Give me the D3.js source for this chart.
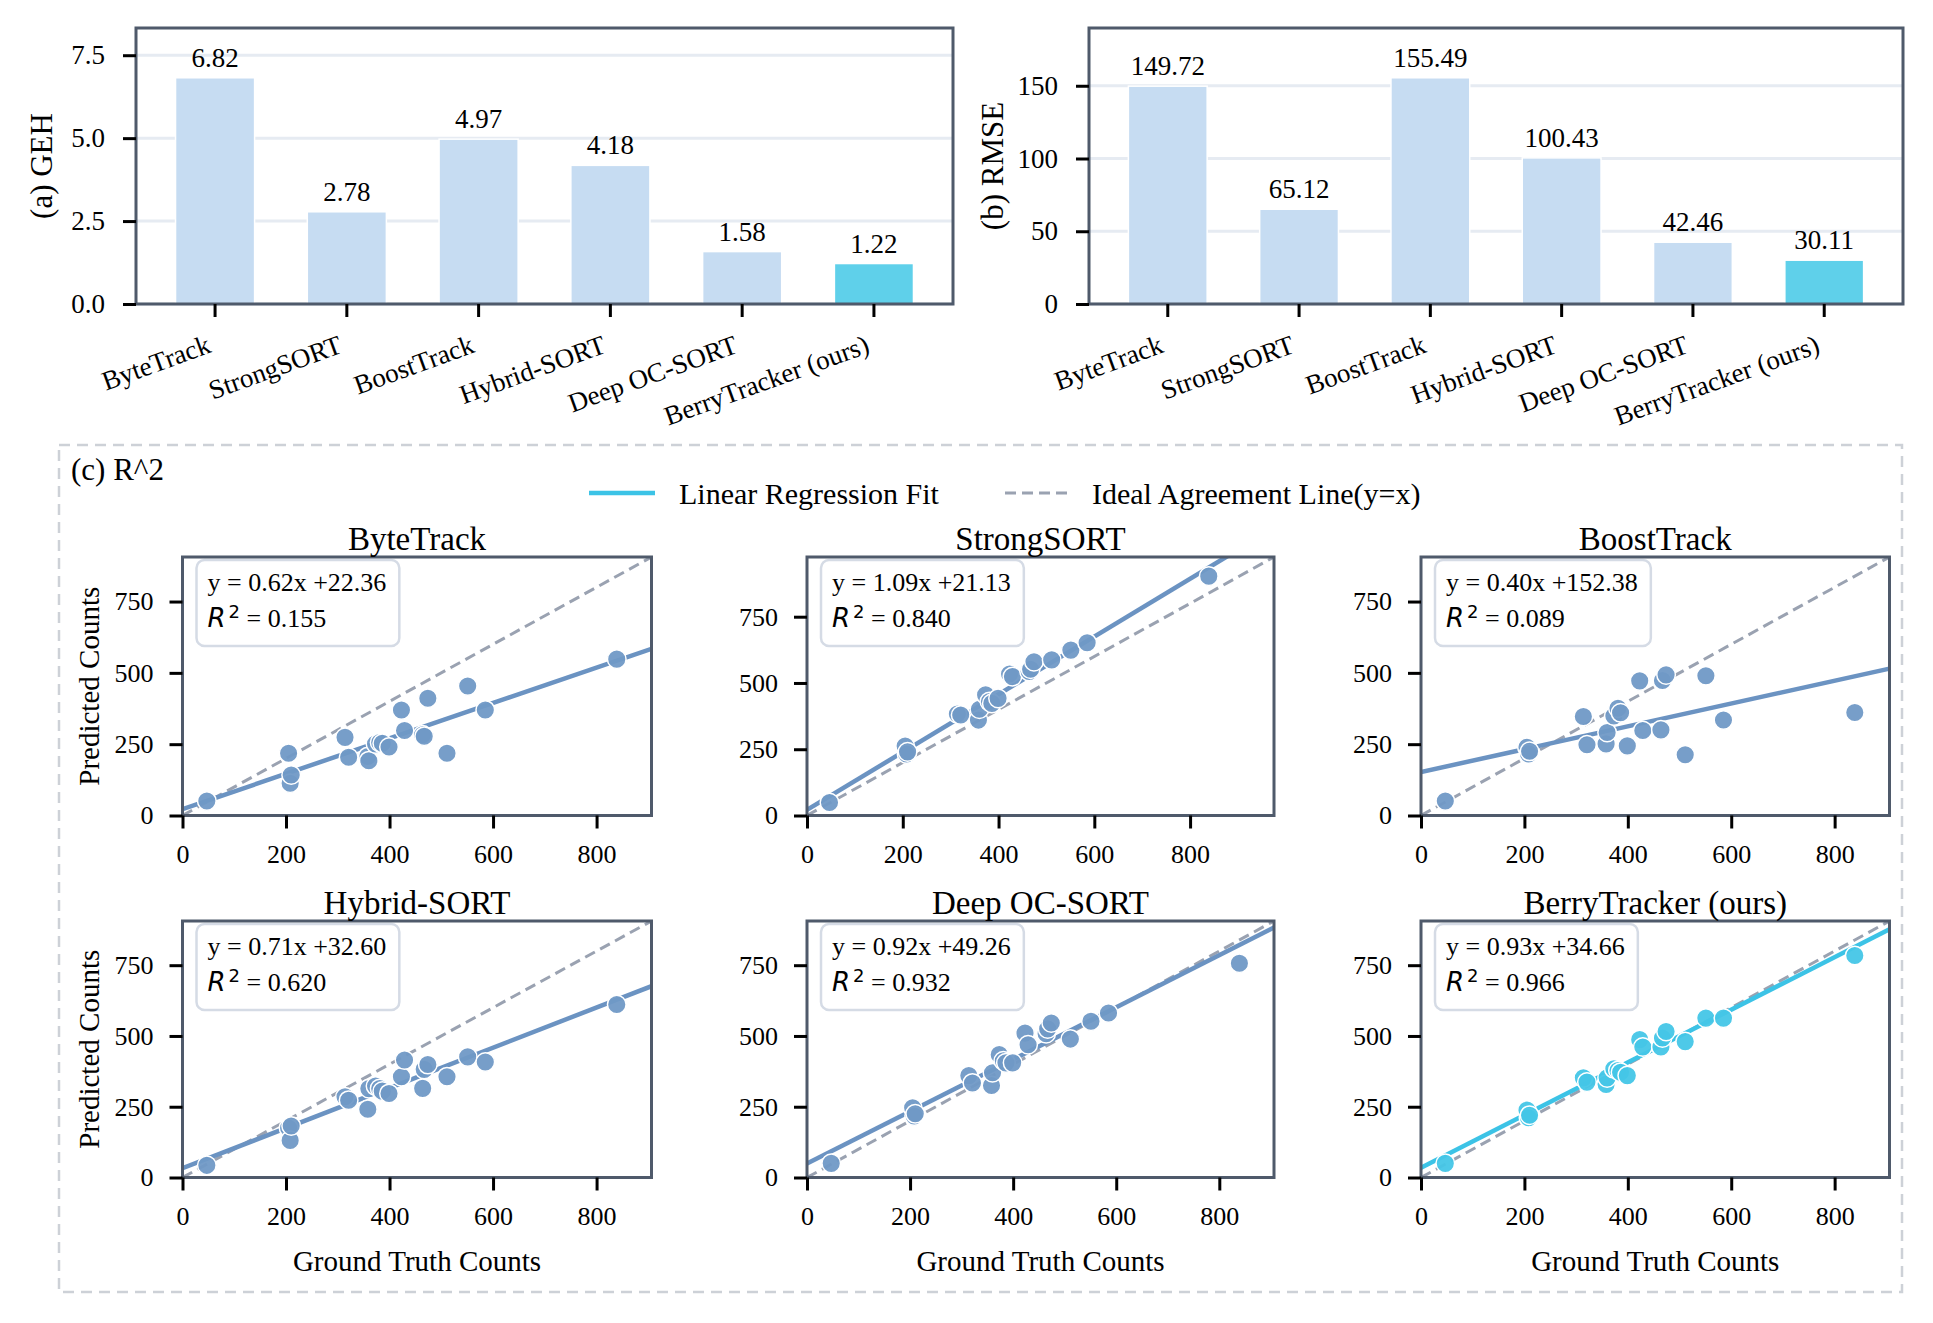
<!DOCTYPE html>
<html>
<head>
<meta charset="utf-8">
<script src="https://cdn.jsdelivr.net/npm/d3@7"></script>
<style>
  body { margin: 0; background: #fff; }
  svg text { font-family: "Liberation Serif", "Times New Roman", serif; fill: #000; }
</style>
</head>
<body>
<svg class="chart"></svg>
<script>
// tracker names, used for bars and scatter titles
var methods = ["ByteTrack", "StrongSORT", "BoostTrack", "Hybrid-SORT", "Deep OC-SORT", "BerryTracker (ours)"];

// (a) and (b) bar values
var gehValues = [6.82, 2.78, 4.97, 4.18, 1.58, 1.22];
var rmseValues = [149.72, 65.12, 155.49, 100.43, 42.46, 30.11];
var gehTicks = [0, 2.5, 5, 7.5];
var rmseTicks = [0, 50, 100, 150];

// (c) ground truth counts per sequence (same for every tracker)
var groundTruth = [47, 205, 208, 210, 314, 321, 358, 360, 373, 381, 386, 399, 423, 429, 464, 467, 474, 511, 551, 585, 839];

// predicted counts
var predByteTrack = [51, 218, 113, 142, 274, 204, 207, 192, 251, 256, 253, 240, 370, 298, 283, 278, 411, 218, 454, 370, 548];
var predStrongSORT = [49, 262, 232, 240, 383, 379, 360, 401, 455, 430, 423, 442, 534, 524, 543, 552, 580, 587, 624, 652, 903];
var predBoostTrack = [51, 239, 216, 225, 347, 248, 251, 291, 349, 376, 360, 244, 472, 298, 300, 473, 493, 213, 490, 335, 361];
var predHybridSORT = [43, 175, 131, 182, 285, 273, 241, 314, 323, 314, 305, 297, 356, 415, 315, 382, 399, 356, 426, 408, 611];
var predDeepOCSORT = [50, 246, 217, 225, 360, 334, 325, 370, 434, 412, 405, 405, 510, 469, 508, 525, 546, 489, 552, 581, 757];
var predBerryTracker = [50, 238, 211, 220, 352, 337, 329, 352, 384, 378, 372, 360, 487, 461, 461, 493, 516, 480, 563, 563, 784];

// fitted lines as printed in the panels
var slopes = [0.62, 1.09, 0.40, 0.71, 0.92, 0.93];
var intercepts = [22.36, 21.13, 152.38, 32.60, 49.26, 34.66];
var r2Values = [0.155, 0.840, 0.089, 0.620, 0.932, 0.966];
var gtTicks = [0, 200, 400, 600, 800];
var countTicks = [0, 250, 500, 750];

var Figure = (function(){

  var that = {},
    svg,
    width = 1933,
    height = 1323,
    spineColor = "#4f5a6b",
    barColor = "#c6dcf2",
    oursColor = "#5fd0ea",
    pointColor = "#7099c6",
    lineColor = "#6b93c2",
    berryPoint = "#45c6e7",
    berryLine = "#3cc3e6",
    identityColor = "#9aa2b1";

  function initialize(){
    svg = d3.select(".chart")
            .attr("width", width)
            .attr("height", height);
    svg.append("rect")
       .attr("width", width).attr("height", height)
       .attr("fill", "#fff");

    makeBarChart(gehValues, gehTicks, d3.format(".1f"), "(a) GEH",
                 {left: 136, right: 953, top: 28, bottom: 304}, 52);
    makeBarChart(rmseValues, rmseTicks, d3.format("d"), "(b) RMSE",
                 {left: 1089, right: 1903, top: 28, bottom: 304}, 1003);
    makeScatterPanel();
  }

  function styleAxis(axisG, fontSize){
    axisG.select(".domain").remove();
    axisG.selectAll(".tick line")
         .attr("stroke", "#000")
         .attr("stroke-width", 3);
    axisG.selectAll(".tick text")
         .style("font-size", fontSize + "px")
         .attr("fill", "#000");
  }

  function drawFrame(box){
    svg.append("rect")
       .attr("x", box.left).attr("y", box.top)
       .attr("width", box.right - box.left)
       .attr("height", box.bottom - box.top)
       .attr("fill", "none")
       .attr("stroke", spineColor)
       .attr("stroke-width", 3);
  }

  //bar chart with value labels, last bar highlighted
  function makeBarChart(values, ticks, fmt, label, box, labelX){
    var xScale = d3.scaleBand()
                   .domain(methods)
                   .range([box.left, box.right])
                   .paddingInner(0.4)
                   .paddingOuter(0.3),
      yScale = d3.scaleLinear()
                 .domain([0, d3.max(values) * 1.22])
                 .range([box.bottom, box.top]);

    var g = svg.append("g");

    //grid
    g.selectAll(".grid")
     .data(ticks)
     .enter().append("line")
     .attr("x1", box.left).attr("x2", box.right)
     .attr("y1", function(d){ return yScale(d); })
     .attr("y2", function(d){ return yScale(d); })
     .attr("stroke", "#e6ebf2")
     .attr("stroke-width", 3);

    g.selectAll(".bar")
     .data(values)
     .enter().append("rect")
     .attr("x", function(d, i){ return xScale(methods[i]); })
     .attr("y", function(d){ return yScale(d); })
     .attr("width", xScale.bandwidth())
     .attr("height", function(d){ return box.bottom - yScale(d); })
     .attr("fill", function(d, i){ return i === methods.length - 1 ? oursColor : barColor; })
     .attr("stroke", "#fff")
     .attr("stroke-width", 1.5);

    g.selectAll(".value")
     .data(values)
     .enter().append("text")
     .attr("x", function(d, i){ return xScale(methods[i]) + xScale.bandwidth() / 2; })
     .attr("y", function(d){ return yScale(d) - 11; })
     .attr("text-anchor", "middle")
     .style("font-size", "27px")
     .text(function(d){ return d.toFixed(2); });

    drawFrame(box);

    var yAxis = svg.append("g")
                   .attr("transform", "translate(" + box.left + ",0)")
                   .call(d3.axisLeft(yScale).tickValues(ticks).tickFormat(fmt).tickSize(13).tickPadding(18));
    styleAxis(yAxis, 27);

    var xAxis = svg.append("g")
                   .attr("transform", "translate(0," + box.bottom + ")")
                   .call(d3.axisBottom(xScale).tickSize(13));
    styleAxis(xAxis, 27);
    xAxis.selectAll(".tick text")
         .attr("y", 0)
         .attr("dy", 0)
         .attr("text-anchor", "end")
         .attr("transform", "translate(-3,48) rotate(-20)");

    svg.append("text")
       .attr("transform", "translate(" + labelX + "," + ((box.top + box.bottom) / 2) + ") rotate(-90)")
       .attr("text-anchor", "middle")
       .style("font-size", "31px")
       .text(label);
  }

  function makeScatterPanel(){
    var preds = [predByteTrack, predStrongSORT, predBoostTrack, predHybridSORT, predDeepOCSORT, predBerryTracker],
      cols = [[182.5, 651.5], [807, 1274], [1421, 1889.5]],
      rows = [[557, 815.5], [921, 1177.5]];

    //dashed frame round (c)
    svg.append("rect")
       .attr("x", 59).attr("y", 445)
       .attr("width", 1843).attr("height", 847)
       .attr("fill", "none")
       .attr("stroke", "#cdd1d7")
       .attr("stroke-width", 2.5)
       .attr("stroke-dasharray", "11,7");

    svg.append("text")
       .attr("x", 71).attr("y", 480)
       .style("font-size", "31px")
       .text("(c) R^2");

    //legend
    svg.append("line")
       .attr("x1", 589).attr("x2", 655).attr("y1", 493).attr("y2", 493)
       .attr("stroke", berryLine).attr("stroke-width", 4.5);
    svg.append("text")
       .attr("x", 679).attr("y", 504)
       .style("font-size", "30px")
       .text("Linear Regression Fit");
    svg.append("line")
       .attr("x1", 1005).attr("x2", 1067).attr("y1", 493).attr("y2", 493)
       .attr("stroke", identityColor).attr("stroke-width", 3)
       .attr("stroke-dasharray", "11,6");
    svg.append("text")
       .attr("x", 1092).attr("y", 504)
       .style("font-size", "30px")
       .text("Ideal Agreement Line(y=x)");

    for (var i = 0; i < methods.length; i++) {
      var c = i % 3,
        r = Math.floor(i / 3);
      makeScatter(i, preds[i], {left: cols[c][0], right: cols[c][1], top: rows[r][0], bottom: rows[r][1]}, c === 0, r === 1);
    }
  }

  function makeScatter(idx, pred, box, showY, showX){
    var isOurs = idx === methods.length - 1,
      lim = d3.max(groundTruth.concat(pred)) * 1.08,
      xScale = d3.scaleLinear().domain([0, lim]).range([box.left, box.right]),
      yScale = d3.scaleLinear().domain([0, lim]).range([box.bottom, box.top]),
      clipId = "clip" + idx;

    svg.append("clipPath").attr("id", clipId)
       .append("rect")
       .attr("x", box.left).attr("y", box.top)
       .attr("width", box.right - box.left).attr("height", box.bottom - box.top);

    var g = svg.append("g").attr("clip-path", "url(#" + clipId + ")");

    //ideal y = x
    g.append("line")
     .attr("x1", xScale(0)).attr("y1", yScale(0))
     .attr("x2", xScale(lim)).attr("y2", yScale(lim))
     .attr("stroke", identityColor)
     .attr("stroke-width", 3)
     .attr("stroke-dasharray", "11,6");

    //regression fit
    g.append("line")
     .attr("x1", xScale(0)).attr("y1", yScale(intercepts[idx]))
     .attr("x2", xScale(lim)).attr("y2", yScale(slopes[idx] * lim + intercepts[idx]))
     .attr("stroke", isOurs ? berryLine : lineColor)
     .attr("stroke-width", 4.5);

    g.selectAll(".dot")
     .data(groundTruth)
     .enter().append("circle")
     .attr("cx", function(d){ return xScale(d); })
     .attr("cy", function(d, j){ return yScale(pred[j]); })
     .attr("r", 9.3)
     .attr("fill", isOurs ? berryPoint : pointColor)
     .attr("fill-opacity", 0.95)
     .attr("stroke", "#fff")
     .attr("stroke-width", 1.5);

    //annotation box
    var ann = svg.append("g");
    var boxRect = ann.append("rect")
                     .attr("x", box.left + 14).attr("y", box.top + 3)
                     .attr("height", 86)
                     .attr("rx", 8).attr("ry", 8)
                     .attr("fill", "#fff")
                     .attr("stroke", "#d5dbe5")
                     .attr("stroke-width", 2.5);
    var line1 = ann.append("text")
                   .attr("x", box.left + 25).attr("y", box.top + 34)
                   .style("font-size", "26px")
                   .text("y = " + slopes[idx].toFixed(2) + "x +" + intercepts[idx].toFixed(2));
    var line2 = ann.append("text")
                   .attr("x", box.left + 25).attr("y", box.top + 70)
                   .style("font-size", "26px");
    line2.append("tspan")
         .style("font-family", "'DejaVu Sans', sans-serif")
         .style("font-style", "italic")
         .text("R");
    line2.append("tspan")
         .style("font-family", "'DejaVu Sans', sans-serif")
         .style("font-size", "18px")
         .attr("dx", 3)
         .attr("dy", -9)
         .text("2");
    line2.append("tspan")
         .attr("dy", 9)
         .text(" = " + r2Values[idx].toFixed(3));
    var w = Math.max(line1.node().getComputedTextLength(), line2.node().getComputedTextLength());
    boxRect.attr("width", w + 24);

    drawFrame(box);

    var xAxis = svg.append("g")
                   .attr("transform", "translate(0," + box.bottom + ")")
                   .call(d3.axisBottom(xScale).tickValues(gtTicks).tickSize(13).tickPadding(16));
    styleAxis(xAxis, 26);
    var yAxis = svg.append("g")
                   .attr("transform", "translate(" + box.left + ",0)")
                   .call(d3.axisLeft(yScale).tickValues(countTicks).tickSize(13).tickPadding(16));
    styleAxis(yAxis, 26);

    svg.append("text")
       .attr("x", (box.left + box.right) / 2)
       .attr("y", box.top - 7)
       .attr("text-anchor", "middle")
       .style("font-size", "33px")
       .text(methods[idx]);

    if (showY) {
      svg.append("text")
         .attr("transform", "translate(99," + ((box.top + box.bottom) / 2) + ") rotate(-90)")
         .attr("text-anchor", "middle")
         .style("font-size", "29px")
         .text("Predicted Counts");
    }
    if (showX) {
      svg.append("text")
         .attr("x", (box.left + box.right) / 2)
         .attr("y", 1271)
         .attr("text-anchor", "middle")
         .style("font-size", "29px")
         .text("Ground Truth Counts");
    }
  }

  that.init = initialize;
  return that;

})();

Figure.init();
</script>
</body>
</html>
